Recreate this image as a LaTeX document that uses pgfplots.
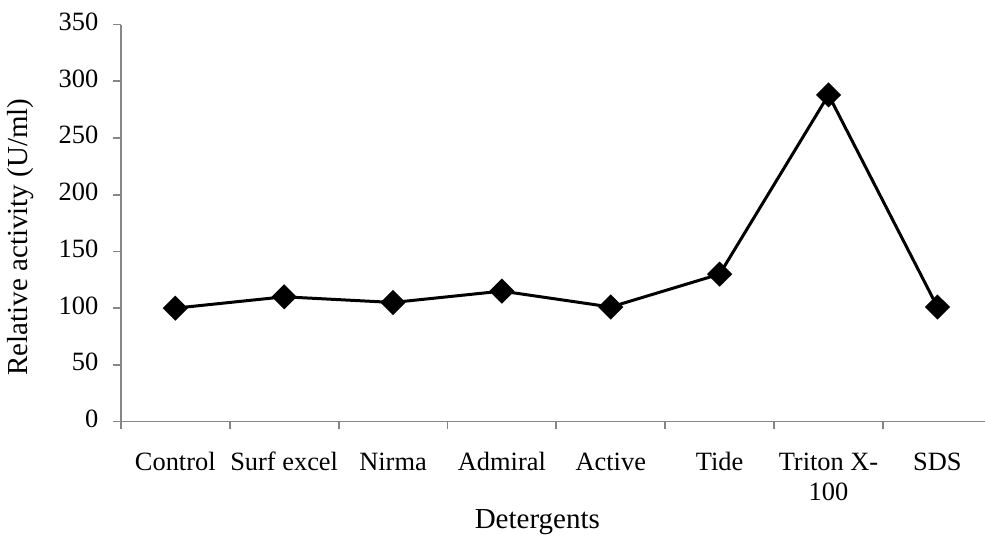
\documentclass[border=0pt]{standalone}
\usepackage{fontspec}
\setmainfont{Liberation Serif}
\usepackage{pgfplots}
\pgfplotsset{compat=1.18}
\definecolor{axgray}{RGB}{134,134,134}
\begin{document}
\begin{tikzpicture}[x=0.5pt,y=0.5pt]
\begin{axis}[
	at = {(111,100)},
	anchor = south west,
	scale only axis,
	width = 435.5pt,
	height = 198.5pt,
	xmin = -0.5, xmax = 7.5,
	ymin = 0, ymax = 350,
	ytick distance = 50,
	xtick = {-0.5,0.5,...,7.5},
	x tick label as interval,
	xticklabels = {Control, Surf excel, Nirma, Admiral, Active, Tide, {Triton X-\\100}, SDS},
	axis x line = bottom,
	axis y line = left,
	axis line style = {draw=axgray, line width=0.9pt, -},
	tick style = {draw=axgray, line width=0.9pt},
	tick align = outside,
	major tick length = 3.75pt,
	/pgf/number format/assume math mode = true,
	typeset ticklabels with strut,
	tick label style = {font=\fontsize{13.2pt}{15pt}\selectfont},
	xticklabel style = {align=center, anchor=north, yshift=-6.5pt},
	yticklabel style = {xshift=-4pt},
	label style = {font=\fontsize{14.5pt}{17pt}\selectfont},
	xlabel = Detergents,
	ylabel = Relative activity (U/ml),
	xlabel style = {at={(axis description cs:0.5,0)}, anchor=center, xshift=-9.5pt, yshift=-50.5pt},
	ylabel style = {at={(axis description cs:0,0.5)}, anchor=center, rotate=0, xshift=-7pt, yshift=50pt},
	clip = false,
]
\addplot[black, line width=1.5pt, mark=square*, mark size=3.7pt, mark options={rotate=45, solid, fill=black}] coordinates {
	(0, 100)
	(1, 110)
	(2, 105)
	(3, 115)
	(4, 101)
	(5, 130)
	(6, 288)
	(7, 101)
};
\end{axis}
\pgfresetboundingbox
\path[use as bounding box] (0,0) rectangle (985,535);
\end{tikzpicture}
\end{document}
